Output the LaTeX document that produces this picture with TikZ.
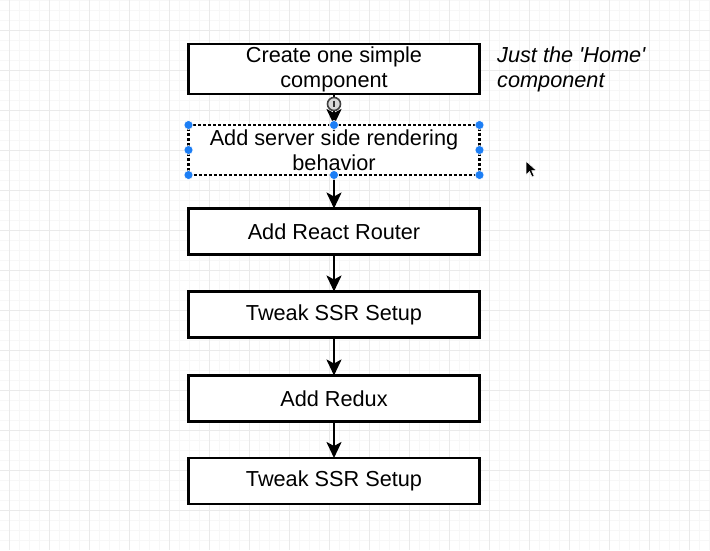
\documentclass[tikz,border=0pt]{standalone}
\usepackage{fontspec}
\setmainfont{Liberation Sans}
\usetikzlibrary{arrows.meta}
\definecolor{gridmajor}{RGB}{234,234,234}
\definecolor{gridminor}{RGB}{247,247,247}
\definecolor{handleblue}{RGB}{28,126,245}
\definecolor{selblue}{RGB}{120,185,235}

\begin{document}
\begin{tikzpicture}[x=1pt, y=-1pt]
%styles
\tikzstyle{stepbox}=[rectangle, draw=black, line width=2.1pt, fill=white, minimum width=291, minimum height=46, inner sep=0pt, outer sep=0pt, align=center, font=\fontsize{21.7}{25}\selectfont]
\tikzstyle{selbox}=[preaction={draw=selblue, line width=2.1pt}, dash pattern=on 3pt off 2pt]
\tikzstyle{notetext}=[align=left, inner sep=0pt, font=\fontsize{21.7}{25}\selectfont\itshape]
\tikzstyle{flow}=[-{Stealth[length=16pt, width=15pt, inset=4pt]}, line width=2.3pt]
\tikzstyle{handle}=[fill=handleblue, draw=white, line width=0.6pt]

\useasboundingbox (0,0) rectangle (710,550);

%grid
\foreach \x in {9,19,...,709} \draw[gridminor, line width=0.8pt] (\x,0) -- (\x,550);
\foreach \y in {0.5,10.5,...,550} \draw[gridminor, line width=0.8pt] (0,\y) -- (710,\y);
\foreach \x in {9,49,...,709} \draw[gridmajor, line width=1pt] (\x,0) -- (\x,550);
\foreach \y in {30.5,70.5,...,550} \draw[gridmajor, line width=1pt] (0,\y) -- (710,\y);

%steps
\node[stepbox, minimum height=50] (home) at (334,69) {Create one simple\\component};
\node[stepbox, minimum height=50, selbox] (ssr) at (334,150) {Add server side rendering\\behavior};
\node[stepbox] (router) at (334,231.5) {Add React Router};
\node[stepbox] (tweakA) at (334,314.5) {Tweak SSR Setup};
\node[stepbox] (redux) at (334,398.5) {Add Redux};
\node[stepbox] (tweakB) at (334,481) {Tweak SSR Setup};

\node[notetext, anchor=base west] (note) at (497,87) {Just the \textquotesingle Home\textquotesingle\\component};

%arrows
\draw[flow] (home) -- (ssr);
\draw[flow] (ssr) -- (router);
\draw[flow] (router) -- (tweakA);
\draw[flow] (tweakA) -- (redux);
\draw[flow] (redux) -- (tweakB);

%hover icon and selection handles
\coordinate (hover) at (334,104);
\draw[fill=black!15, draw=black!75, line width=1.6pt] (hover) circle (6.5);
\draw[black!80, line width=1.2pt] (hover) ++(0,-3.5) -- ++(0,6);
\foreach \a in {north west, north, north east, east, south east, south, south west, west}
  \draw[handle] (ssr.\a) circle (4.5);

%cursor
\coordinate (cursor) at (526,161);
\filldraw[fill=black, draw=white, line width=0.6pt] (cursor) -- ++(0,14) -- ++(3.5,-3.5) -- ++(2.5,5.5) -- ++(2.2,-1) -- ++(-2.4,-5.3) -- ++(4.8,0) -- cycle;
\end{tikzpicture}
\end{document}
